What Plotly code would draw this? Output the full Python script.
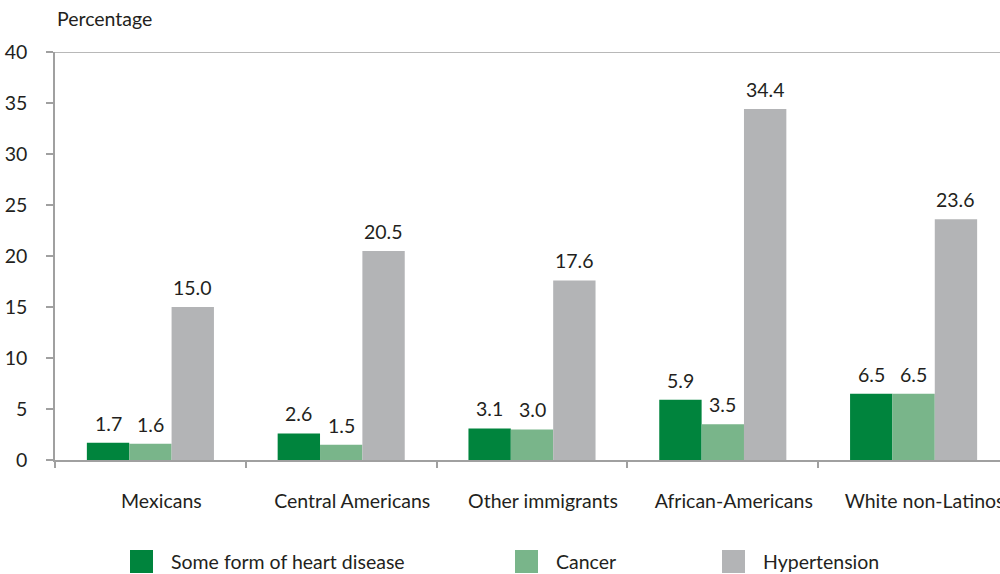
import plotly.graph_objects as go

# Chronic condition prevalence by population group (percent)
groups = ["Mexicans", "Central Americans", "Other immigrants",
          "African-Americans", "White non-Latinos"]
heart = [1.7, 2.6, 3.1, 5.9, 6.5]
cancer = [1.6, 1.5, 3.0, 3.5, 6.5]
hypertension = [15.0, 20.5, 17.6, 34.4, 23.6]
series_names = ["Some form of heart disease", "Cancer", "Hypertension"]
y_ticks = [0, 5, 10, 15, 20, 25, 30, 35, 40]

colors = ["#00843D", "#79B58A", "#B3B4B6"]
text_color = "#231F20"
axis_color = "#A0A0A0"
font_family = "Lato, 'Open Sans', sans-serif"
FS = 19.5

W, H = 1000, 574
M_L, M_R, M_T, M_B = 55, 0, 52, 114
BARGAP = 0.334
bar_w = (1 - BARGAP) / 3          # width of one bar in category units
group_px = 190.8                  # pixel width of one category slot
plot_w = W - M_L - M_R
plot_h = H - M_T - M_B

fig = go.Figure()
all_series = [heart, cancer, hypertension]
for name, vals, col in zip(series_names, all_series, colors):
    fig.add_trace(go.Bar(
        x=groups, y=vals, name=name, marker=dict(color=col, line=dict(width=0)),
        showlegend=False, hoverinfo="skip",
    ))

# Value labels above each bar
annotations = []
for k, vals in enumerate(all_series):
    offset = (k - 1) * bar_w
    for i, v in enumerate(vals):
        annotations.append(dict(
            x=i + offset, y=v, xref="x", yref="y", text=f"{v:.1f}",
            showarrow=False, yanchor="bottom", yshift=6,
            font=dict(size=FS, color=text_color, family=font_family),
        ))

# Axis title above the value axis
annotations.append(dict(
    x=0, y=1, xref="paper", yref="paper", text="Percentage",
    showarrow=False, xanchor="left", yanchor="middle", yshift=34,
    font=dict(size=FS, color=text_color, family=font_family),
))

# Legend drawn below the chart with large square swatches
legend_x = [130, 515, 722]
shapes = []
for name, col, lx in zip(series_names, colors, legend_x):
    x0 = (lx - M_L) / plot_w
    x1 = (lx + 23 - M_L) / plot_w
    y0 = (H - M_B - 573) / plot_h
    y1 = (H - M_B - 550) / plot_h
    shapes.append(dict(type="rect", xref="paper", yref="paper",
                       x0=x0, x1=x1, y0=y0, y1=y1,
                       fillcolor=col, line=dict(width=0)))
    annotations.append(dict(
        x=(lx + 39 - M_L) / plot_w, y=(y0 + y1) / 2, xref="paper", yref="paper",
        text=name, showarrow=False, xanchor="left", yanchor="middle",
        font=dict(size=FS, color=text_color, family=font_family),
    ))

# Top border line at the axis maximum
shapes.append(dict(type="line", xref="paper", yref="y", x0=0, x1=1,
                   y0=40, y1=40, line=dict(color=axis_color, width=1.5)))

fig.update_layout(
    width=W, height=H,
    margin=dict(l=M_L, r=M_R, t=M_T, b=M_B, autoexpand=False),
    paper_bgcolor="white", plot_bgcolor="white",
    barmode="group", bargap=BARGAP, bargroupgap=0,
    font=dict(family=font_family, size=FS, color=text_color),
    annotations=annotations, shapes=shapes,
    xaxis=dict(
        type="category", automargin=False,
        range=[-0.5, -0.5 + plot_w / group_px],
        showline=True, linecolor=axis_color, linewidth=1.5,
        ticks="outside", tickson="boundaries", ticklen=6,
        tickcolor=axis_color, tickwidth=1.5,
        ticklabelstandoff=23, ticklabelshift=11,
        tickfont=dict(size=FS, color=text_color),
        showgrid=False, zeroline=False,
    ),
    yaxis=dict(
        range=[0, 40], tickvals=y_ticks, automargin=False,
        showline=True, linecolor=axis_color, linewidth=1.5,
        ticks="outside", ticklen=7, tickcolor=axis_color, tickwidth=1.5,
        ticklabelstandoff=15,
        tickfont=dict(size=FS, color=text_color),
        showgrid=False, zeroline=False,
    ),
)

fig.write_html("out.html")
